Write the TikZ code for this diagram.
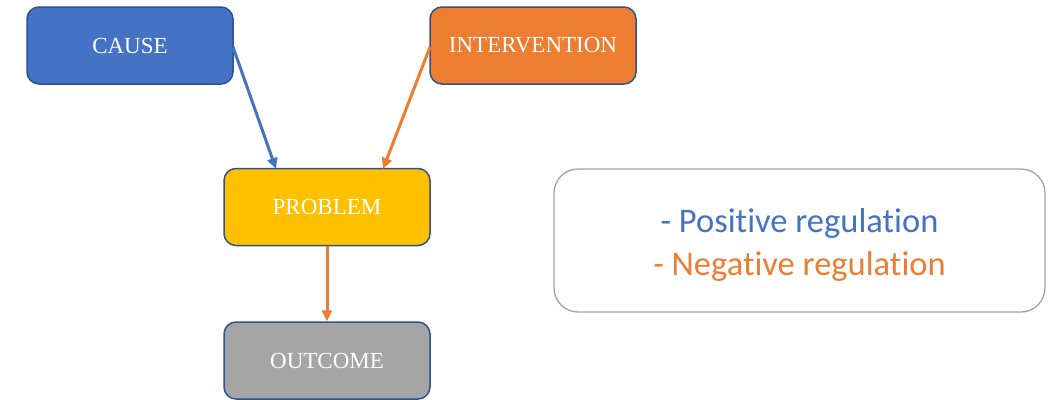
\documentclass[tikz,border=0pt]{standalone}
\usepackage{fontspec}
\setmainfont{Liberation Serif}
\newfontfamily\legendfont[Ligatures=NoCommon]{Carlito}
\usetikzlibrary{arrows.meta}
\definecolor{cblue}{HTML}{4472C4}
\definecolor{corange}{HTML}{ED7D31}
\definecolor{cgold}{HTML}{FFC000}
\definecolor{cgray}{HTML}{A5A5A5}
\definecolor{cborder}{HTML}{2F528F}
\definecolor{lborder}{HTML}{9EA3AE}
\begin{document}
\begin{tikzpicture}[x=1pt,y=-1pt,
  box/.style={draw=cborder, line width=1.5pt, rounded corners=12pt,
    minimum width=206pt, minimum height=77pt, inner sep=0pt,
    text=white, font=\fontsize{23}{26}\selectfont},
  conn/.style={line width=3pt, -{Triangle[length=11pt,width=10pt]}}]
\useasboundingbox (0,0) rectangle (1048,399);
\node[box, fill=cblue] (cause) at (130,45.5) {\raisebox{-1.5pt}{CAUSE}};
\node[box, fill=corange] (interv) at (533,45.5) {\raisebox{-1.5pt}{INTERVENTION}};
\node[box, fill=cgold] (problem) at (327,207) {\raisebox{-1.5pt}{PROBLEM}};
\node[box, fill=cgray] (outcome) at (327,360.5) {\raisebox{-1.5pt}{OUTCOME}};
\node[draw=lborder, line width=1.3pt, rounded corners=24pt,
  minimum width=491pt, minimum height=143pt, inner sep=0pt] (legend) at (799.5,240.5) {};
\node[align=center, font=\legendfont\fontsize{34.5}{43}\selectfont] (legtext) at (799.5,244.5)
  {\textcolor{cblue}{- Positive regulation}\\\textcolor{corange}{- Negative regulation}};
\coordinate (c1) at (233,47);
\coordinate (c2) at (276,169);
\coordinate (i1) at (430,47);
\coordinate (i2) at (383,169);
\draw[conn, draw=cblue, fill=cblue] (c1) -- (c2);
\draw[conn, draw=corange, fill=corange] (i1) -- (i2);
\draw[conn, draw=corange, fill=corange] (problem.south) -- (outcome.north);
\end{tikzpicture}
\end{document}
